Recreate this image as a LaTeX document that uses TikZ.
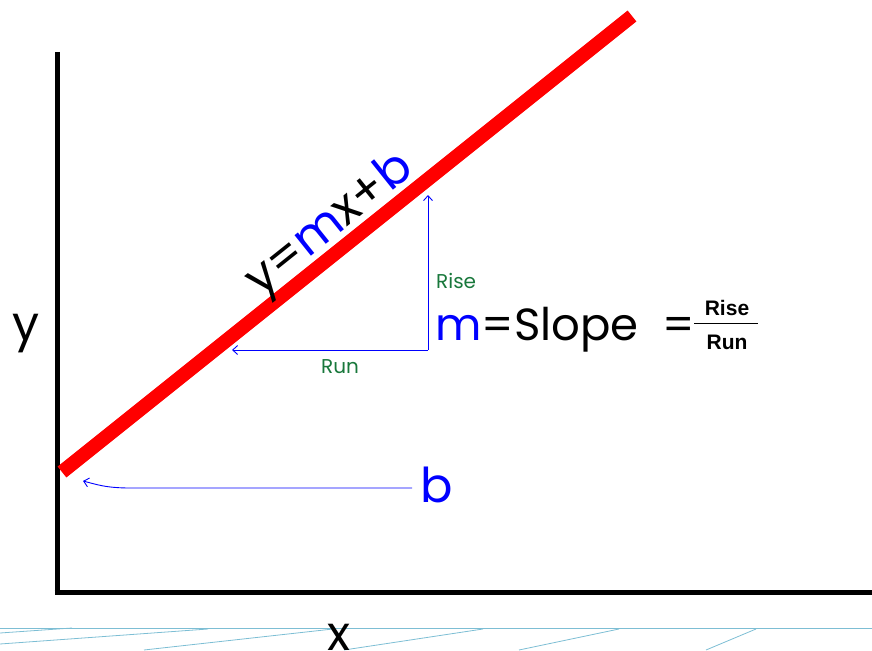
\documentclass[tikz,border=0pt]{standalone}
\usepackage{fontspec}
\setmainfont{Poppins}
\newfontfamily\fracfont{Liberation Sans}
\usetikzlibrary{arrows.meta}
\definecolor{rgreen}{RGB}{25,120,60}
\definecolor{gridblue}{RGB}{125,190,212}
\definecolor{pblue}{RGB}{0,0,255}
\tikzset{
  axis/.style={line width=5pt, line cap=butt},
  redline/.style={line width=14pt, red},
  barrow/.style={pblue, line width=0.9pt, -{Straight Barb[length=5pt,width=9pt]}},
  big/.style={font=\fontsize{48}{50}\selectfont, inner sep=0pt},
  mid/.style={font=\fontsize{45}{47}\selectfont, inner sep=0pt},
  small/.style={font=\fontsize{20}{22}\selectfont, inner sep=0pt, text=rgreen},
  fracbox/.style={font=\fontsize{21}{22}\fracfont\bfseries, inner sep=0pt},
  grid/.style={gridblue, line width=0.8pt}
}
\begin{document}
\begin{tikzpicture}[x=1pt,y=-1pt]
\useasboundingbox (0,0) rectangle (872,650);
% background grid lines
\draw[grid] (0,628) -- (872,628);
\draw[grid] (0,633) -- (72,628);
\draw[grid] (0,644) -- (208,629);
\draw[grid] (144,650) -- (333,629);
\draw[grid] (344,650) -- (483,629);
\draw[grid] (519,650) -- (619,629);
\draw[grid] (706,650) -- (756,629);
% axes
\coordinate (ytop) at (57,52);
\coordinate (origin) at (57,592);
\coordinate (xend) at (872,592);
\draw[axis] (ytop) -- ([yshift=-2.5pt]origin) ;
\draw[axis] ([xshift=-2.5pt]origin) -- (xend);
% red line
\coordinate (lA) at (62,472);
\coordinate (lB) at (632,16);
\draw[redline] (lA) -- (lB);
% axis labels
\node[big, anchor=base] (ylab) at (26,340) {y};
\node[big, anchor=base] (xlab) at (339,650) {x};
% equation along the line
\node[big, anchor=base, rotate=38.66] (eq) at (338,235) {y={\color{pblue}m}x+{\color{pblue}b}};
% rise / run
\coordinate (corner) at (428,350);
\coordinate (risetop) at (428,195);
\coordinate (runend) at (232,350);
\draw[barrow] (corner) -- (risetop);
\draw[barrow] (corner) -- (runend);
\node[small, anchor=base west] (rise) at (436,288) {Rise};
\node[small, anchor=base] (run) at (340,373) {Run};
% slope
\node[mid, anchor=base west] (slope) at (435,340) {{\color{pblue}m}=Slope};
\node[mid, anchor=base] (eq2) at (679,340) {=};
\coordinate (fl) at (694,323.5);
\coordinate (fr) at (758,323.5);
\draw[line width=0.9pt] (fl) -- (fr);
\node[fracbox, anchor=base] (frise) at (727,315) {Rise};
\node[fracbox, anchor=base] (frun) at (727,349) {Run};
% b
\node[big, anchor=base west, text=pblue] (blab) at (420,502) {b};
\coordinate (bstart) at (412,488);
\coordinate (bmid) at (130,488);
\coordinate (bend) at (83,481);
\draw[barrow] (bstart) -- (bmid) .. controls (105,488) and (95,484) .. (bend);
\end{tikzpicture}
\end{document}
